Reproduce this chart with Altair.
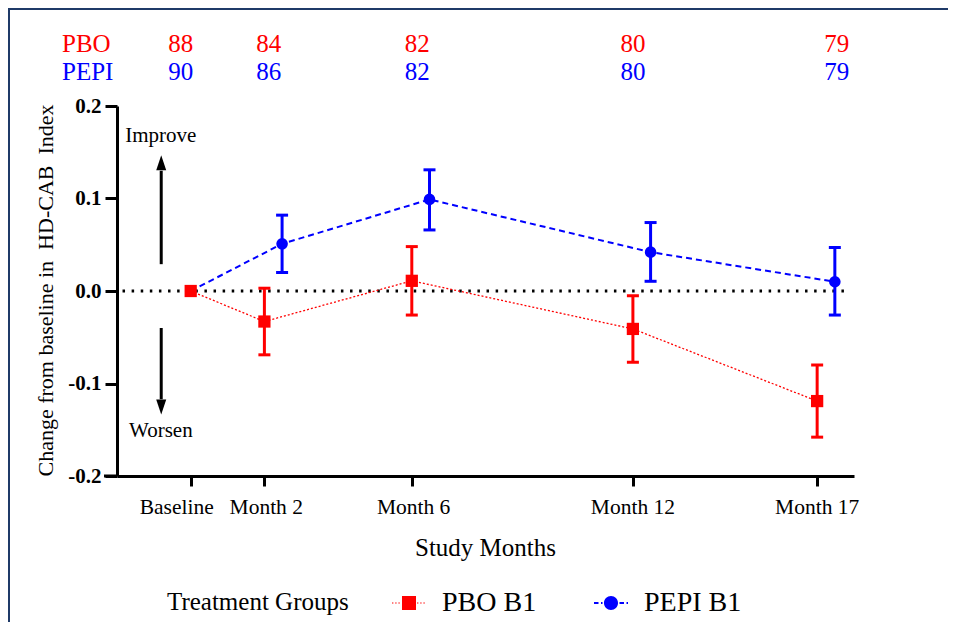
import altair as alt
import pandas as pd

# ---------------- data ----------------
months = [0, 2, 6, 12, 17]
pbo_mean = [0.0, -0.033, 0.011, -0.041, -0.119]
pbo_lo = [None, -0.069, -0.026, -0.077, -0.158]
pbo_hi = [None, 0.003, 0.048, -0.005, -0.080]
pepi_mean = [0.0, 0.051, 0.099, 0.042, 0.010]
pepi_lo = [None, 0.020, 0.066, 0.0105, -0.026]
pepi_hi = [None, 0.082, 0.131, 0.074, 0.047]
pepi_shift = [0, 0.48, 0.48, 0.48, 0.48]   # horizontal dodge of PEPI series

tick_labels = ["Baseline", "Month 2", "Month 6", "Month 12", "Month 17"]
tick_label_x = [-0.38, 2.05, 6.05, 12.0, 17.0]

count_groups = ["PBO", "PEPI"]
pbo_n = [88, 84, 82, 80, 79]
pepi_n = [90, 86, 82, 80, 79]
count_x = [-0.27, 2.12, 6.15, 12.0, 17.53]

groups = ["PBO B1", "PEPI B1"]
RED = "#FF0000"
BLUE = "#0000FF"
FONT = "Liberation Serif"

rows = []
for i, m in enumerate(months):
    rows.append({"group": "PBO B1", "x": m, "mean": pbo_mean[i], "lo": pbo_lo[i], "hi": pbo_hi[i]})
for i, m in enumerate(months):
    rows.append({"group": "PEPI B1", "x": m + pepi_shift[i], "mean": pepi_mean[i], "lo": pepi_lo[i], "hi": pepi_hi[i]})
df = pd.DataFrame(rows)

xscale = alt.Scale(domain=[-2, 18], nice=False, zero=False)
yscale = alt.Scale(domain=[-0.2, 0.2], nice=False, zero=False)
YTITLE = "Change from baseline in\u00a0 HD-CAB\u00a0 Index"

x_axis = alt.Axis(values=months, labels=False, tickSize=10, title="Study Months",
                  titleFontSize=25, titleFontWeight="normal", titleY=71, titleBaseline="middle",
                  titleX=368)
y_axis = alt.Axis(values=[-0.2, -0.1, 0.0, 0.1, 0.2], tickSize=12, labelPadding=4,
                  labelExpr="replace(format(datum.value, '.1f'), '\u2212', '-')",
                  labelFontSize=21, labelFontWeight="bold",
                  title=YTITLE,
                  titleFontSize=22, titleFontWeight="normal", titleX=-72, titleY=184,
                  titleAngle=-90, titleAlign="center", titleBaseline="middle")


def X(field):
    return alt.X(field, type="quantitative", scale=xscale, axis=x_axis, title="Study Months")


def Y(field):
    return alt.Y(field, type="quantitative", scale=yscale, axis=y_axis, title=YTITLE)


base = alt.Chart(df)
one = alt.Chart(pd.DataFrame({"a": [0]}))

# frame box of the figure (right and bottom edges fall outside the canvas)
frame = one.mark_rect(fill=None, fillOpacity=0, stroke="#1F3A68", strokeWidth=2).encode(
    x=alt.value(-108), x2=alt.value(860), y=alt.value(-97), y2=alt.value(560))

# x-axis extension left of the y axis
axis_ext = one.mark_rule(color="black", strokeWidth=3).encode(
    x=alt.value(-13), x2=alt.value(0), y=alt.value(370), y2=alt.value(370))

# zero reference line
zero_df = pd.DataFrame({"x": [-1.85], "x2": [17.8], "y": [0.0]})
zero_line = alt.Chart(zero_df).mark_rule(color="black", strokeWidth=3, strokeDash=[2.5, 6.6]).encode(
    x=X("x"), x2="x2", y=Y("y"))

# improve / worsen arrows
arrow_x = [-0.8, -0.8]
arrow_from = [0.029, -0.040]
arrow_to = [0.130, -0.117]
head_y = [0.136, -0.1228]
arrow_df = pd.DataFrame({"x": arrow_x, "y": arrow_from, "y2": arrow_to, "hy": head_y,
                         "dir": ["up", "down"]})
shafts = alt.Chart(arrow_df).mark_rule(color="black", strokeWidth=3).encode(
    x=X("x"), y=Y("y"), y2="y2")
head_up = alt.Chart(arrow_df).transform_filter("datum.dir == 'up'").mark_point(
    shape="M0,-1L0.5,0.5L-0.5,0.5Z", filled=True, color="black", size=400, opacity=1).encode(
    x=X("x"), y=Y("hy"))
head_down = alt.Chart(arrow_df).transform_filter("datum.dir == 'down'").mark_point(
    shape="M0,1L0.5,-0.5L-0.5,-0.5Z", filled=True, color="black", size=400, opacity=1).encode(
    x=X("x"), y=Y("hy"))

note_df = pd.DataFrame({"x": [-0.81, -0.81], "y": [0.161, -0.1576], "t": ["Improve", "Worsen"]})
notes = alt.Chart(note_df).mark_text(font=FONT, fontSize=21, color="black", align="center",
                                     baseline="alphabetic").encode(x=X("x"), y=Y("y"), text="t")


def series(group, color, dash, width, shape, size):
    b = base.transform_filter(alt.datum.group == group)
    line = b.mark_line(color=color, strokeDash=dash, strokeWidth=width).encode(x=X("x"), y=Y("mean"))
    eb = b.transform_filter("isValid(datum.lo)")
    bars = eb.mark_rule(color=color, strokeWidth=3).encode(x=X("x"), y=Y("lo"), y2="hi")
    cap_lo = eb.mark_tick(color=color, thickness=3, size=12, orient="horizontal", opacity=1).encode(
        x=X("x"), y=Y("lo"))
    cap_hi = eb.mark_tick(color=color, thickness=3, size=12, orient="horizontal", opacity=1).encode(
        x=X("x"), y=Y("hi"))
    pts = b.mark_point(shape=shape, filled=True, color=color, size=size, opacity=1).encode(
        x=X("x"), y=Y("mean"))
    return [line, bars, cap_lo, cap_hi, pts]


pepi_layers = series("PEPI B1", BLUE, [6, 4], 2, "circle", 135)
pbo_layers = series("PBO B1", RED, [2, 2], 1.3, "square", 150)

# counts table above the plot
cnt_rows = []
for i in range(len(months)):
    cnt_rows.append({"x": count_x[i], "t": str(pbo_n[i]), "g": "PBO"})
    cnt_rows.append({"x": count_x[i], "t": str(pepi_n[i]), "g": "PEPI"})
cnt_df = pd.DataFrame(cnt_rows)
cnt_pbo = alt.Chart(cnt_df).transform_filter("datum.g == 'PBO'").mark_text(
    font=FONT, fontSize=25, color=RED, baseline="middle").encode(x=X("x"), y=alt.value(-62.5), text="t")
cnt_pepi = alt.Chart(cnt_df).transform_filter("datum.g == 'PEPI'").mark_text(
    font=FONT, fontSize=25, color=BLUE, baseline="middle").encode(x=X("x"), y=alt.value(-34.5), text="t")
grp_df = pd.DataFrame({"g": count_groups})
grp_pbo = alt.Chart(grp_df).transform_filter("datum.g == 'PBO'").mark_text(
    font=FONT, fontSize=25, color=RED, align="left", baseline="middle").encode(
    x=alt.value(-55), y=alt.value(-62.5), text="g")
grp_pepi = alt.Chart(grp_df).transform_filter("datum.g == 'PEPI'").mark_text(
    font=FONT, fontSize=25, color=BLUE, align="left", baseline="middle").encode(
    x=alt.value(-55), y=alt.value(-34.5), text="g")

# x tick labels
tl_df = pd.DataFrame({"x": tick_label_x, "t": tick_labels})
tick_text = alt.Chart(tl_df).mark_text(font=FONT, fontSize=21.5, color="black",
                                       baseline="middle").encode(x=X("x"), y=alt.value(402), text="t")


# legend symbols: marker with a dotted / dashed line through it
def rect(x0, x1, ht, u=17.0):
    return f"M{x0/u:.3f},{-ht/u:.3f}H{x1/u:.3f}V{ht/u:.3f}H{x0/u:.3f}Z"


def dashed(on, off, ht, gap_half):
    parts = []
    x = -17.0
    while x < -gap_half:
        parts.append(rect(x, min(x + on, -gap_half), ht))
        x += on + off
    x = gap_half
    while x < 17.0:
        parts.append(rect(x, min(x + on, 17.0), ht))
        x += on + off
    return "".join(parts)


sq = 7 / 17
pbo_sym = f"M{-sq:.3f},{-sq:.3f}H{sq:.3f}V{sq:.3f}H{-sq:.3f}Z" + dashed(1.4, 1.8, 0.6, 8)
cr = 7 / 17
pepi_sym = (f"M{-cr:.3f},0A{cr:.3f},{cr:.3f} 0 1,0 {cr:.3f},0A{cr:.3f},{cr:.3f} 0 1,0 {-cr:.3f},0Z"
            + dashed(4.5, 2.5, 1.0, 8.5))

leg_df = pd.DataFrame({"group": groups})
legend_layer = alt.Chart(leg_df).transform_filter("false").mark_point(filled=True, opacity=1).encode(
    color=alt.Color("group:N", scale=alt.Scale(domain=groups, range=[RED, BLUE]),
                    title="Treatment Groups",
                    legend=alt.Legend(orient="none", legendX=50, legendY=480, direction="horizontal",
                                      titleOrient="left", titleFont=FONT, titleFontSize=25,
                                      titleFontWeight="normal", titleColor="black", titlePadding=43,
                                      labelFont=FONT, labelFontSize=28, labelColor="black",
                                      labelOffset=16, symbolSize=1156, symbolStrokeWidth=0,
                                      columnPadding=57, titleLimit=400, labelLimit=300)),
    shape=alt.Shape("group:N", scale=alt.Scale(domain=groups, range=[pbo_sym, pepi_sym]),
                    title="Treatment Groups"),
)

chart = alt.layer(
    frame, zero_line, axis_ext, shafts, head_up, head_down, notes,
    *pepi_layers, *pbo_layers,
    cnt_pbo, cnt_pepi, grp_pbo, grp_pepi, tick_text, legend_layer,
).properties(
    width=737, height=370,
    autosize=alt.AutoSizeParams(type="none"),
    padding={"left": 109, "top": 98, "right": 94, "bottom": 146},
    background="white",
).configure_axis(
    domainColor="black", domainWidth=3, tickColor="black", tickWidth=3, grid=False,
    labelFont=FONT, titleFont=FONT, labelColor="black", titleColor="black",
).configure_view(stroke=None)

chart.save("out.html", embed_options={"renderer": "svg", "actions": False})
